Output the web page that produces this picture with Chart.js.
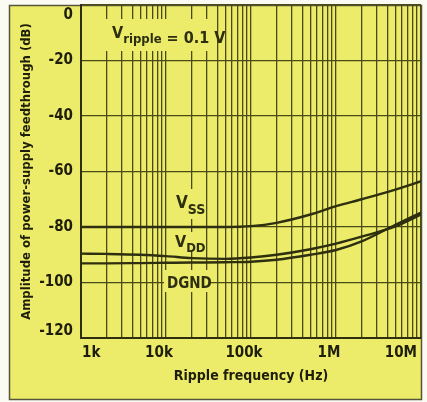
<!DOCTYPE html>
<html>
<head>
<meta charset="utf-8">
<script src="https://cdn.jsdelivr.net/npm/chart.js@4"></script>
<style>
html, body { margin:0; padding:0; background:#fff; }
#wrap { width:427px; height:402px; }
</style>
</head>
<body>
<div id="wrap"><canvas id="psrr" width="427" height="402"></canvas></div>
<script>

// values (dB vs ripple frequency)
const freqHz = [1e3, 2e3, 5e3, 1e4, 2e4, 5e4, 1e5, 2e5, 5e5, 1e6, 2e6, 5e6, 1e7];
const vssDb  = [-80, -80, -80, -80, -80, -80, -79.7, -78.5, -75.5, -72.5, -70, -66.5, -63.5];
const vddDb  = [-89.6, -89.7, -90, -90.5, -91.2, -91.5, -91, -90, -88, -86, -83.5, -79.8, -75.5];
const dgndDb = [-93.1, -93.1, -93, -92.9, -92.8, -92.7, -92.5, -91.8, -90, -88.3, -85.2, -79.2, -74.8];

const decadeTicks  = [1e3, 1e4, 1e5, 1e6, 1e7];
const decadeLabels = ['1k', '10k', '100k', '1M', '10M'];
const dbTicks = [0, -20, -40, -60, -80, -100, -120];

const INK = '#2e2e10';
const GRID = '#4a4a16';
const YELLOW = '#ecec6a';
const FONT = "'Liberation Sans Narrow', 'DejaVu Sans Condensed', sans-serif";

function pts(vals){
    return freqHz.map((f, i) => ({x: f, y: vals[i]}));
}

function lineSet(vals){
    return {
        data: pts(vals),
        borderColor: INK,
        borderWidth: 2.4,
        pointRadius: 0,
        tension: 0.4,
        cubicInterpolationMode: 'monotone',
        fill: false
    };
}

// yellow panel, frame, and nudging the end tick labels inside the plot
const framePlugin = {
    id: 'frame',
    beforeDraw(chart){
        const ctx = chart.ctx;
        const a = chart.chartArea;
        ctx.save();
        ctx.fillStyle = '#fbfbf4';
        ctx.fillRect(0, 0, chart.width, chart.height);
        ctx.fillStyle = YELLOW;
        ctx.fillRect(9, 5, 413, 395);
        ctx.strokeStyle = '#55553a';
        ctx.lineWidth = 1.5;
        ctx.strokeRect(9.5, 5.5, 412, 394);
        ctx.restore();

        const xs = chart.scales.x.getLabelItems();
        xs.forEach(it => {
            if (!it.label) return;
            ctx.font = it.font.string;
            const half = ctx.measureText(it.label).width / 2;
            const t = it.options.translation;
            if (t[0] - half < a.left + 1) t[0] = a.left + 1 + half;
            if (t[0] + half > a.right - 4) t[0] = a.right - 4 - half;
        });
        const ys = chart.scales.y.getLabelItems();
        ys.forEach(it => {
            const t = it.options.translation;
            const half = it.font.size * 0.38;
            if (t[1] - half < a.top + 4) t[1] = a.top + 4 + half;
            if (t[1] + half > a.bottom - 1) t[1] = a.bottom - 1 - half;
        });
    }
};

function subText(ctx, x, y, main, sub, rest, size, subSize, drop){
    ctx.font = 'bold ' + size + 'px ' + FONT;
    ctx.fillText(main, x, y);
    x += ctx.measureText(main).width;
    ctx.font = 'bold ' + subSize + 'px ' + FONT;
    ctx.fillText(sub, x, y + drop);
    x += ctx.measureText(sub).width;
    if (rest){
        ctx.font = 'bold ' + size + 'px ' + FONT;
        ctx.fillText(rest, x, y + drop);
    }
}

const labelPlugin = {
    id: 'curveLabels',
    afterDatasetsDraw(chart){
        const ctx = chart.ctx;
        ctx.save();
        ctx.fillStyle = YELLOW;
        ctx.fillRect(106, 19, 108, 32);
        ctx.fillRect(172, 189, 34, 30);
        ctx.fillRect(171, 232, 33, 19);
        ctx.fillRect(164, 270, 44, 22);
        ctx.fillStyle = INK;
        ctx.textBaseline = 'alphabetic';
        subText(ctx, 112, 38, 'V', 'ripple', ' = 0.1 V', 16, 13, 5);
        subText(ctx, 176, 208, 'V', 'SS', '', 17, 14, 6);
        subText(ctx, 175, 247, 'V', 'DD', '', 16, 13, 5);
        ctx.font = 'bold 15px ' + FONT;
        ctx.fillText('DGND', 167, 288);
        ctx.restore();
    }
};

new Chart(document.getElementById('psrr'), {
    type: 'line',
    data: {
        datasets: [lineSet(vssDb), lineSet(vddDb), lineSet(dgndDb)]
    },
    options: {
        responsive: false,
        animation: false,
        devicePixelRatio: 1,
        layout: { padding: { left: 0, top: 5, right: 6, bottom: 0 } },
        plugins: {
            legend: { display: false },
            tooltip: { enabled: false }
        },
        scales: {
            x: {
                type: 'logarithmic',
                min: 1e3,
                max: 1e7,
                afterBuildTicks(s){
                    const t = [];
                    for (let i = 0; i < decadeTicks.length - 1; i++){
                        for (let m = 1; m <= 9; m++) t.push({value: decadeTicks[i] * m});
                    }
                    t.push({value: decadeTicks[decadeTicks.length - 1]});
                    s.ticks = t;
                },
                afterFit(s){
                    s.height = 64;
                    s.paddingLeft = 0;
                    s.paddingRight = 0;
                },
                grid: {
                    color: GRID,
                    lineWidth: 1.3,
                    drawTicks: false
                },
                border: { color: INK, width: 2 },
                ticks: {
                    autoSkip: false,
                    maxRotation: 0,
                    minRotation: 0,
                    padding: 6,
                    labelOffset: -7,
                    color: '#1e1e0a',
                    font: { family: FONT, size: 15, weight: 'bold' },
                    callback(v){
                        const i = decadeTicks.indexOf(v);
                        return i < 0 ? '' : decadeLabels[i];
                    }
                },
                title: {
                    display: true,
                    text: 'Ripple frequency (Hz)',
                    color: '#1e1e0a',
                    font: { family: FONT, size: 14, weight: 'bold' },
                    padding: { top: 0, bottom: 17 }
                }
            },
            y: {
                min: -120,
                max: 0,
                afterBuildTicks(s){
                    s.ticks = dbTicks.map(v => ({value: v}));
                },
                afterFit(s){
                    s.width = 81;
                    s.paddingTop = 0;
                    s.paddingBottom = 0;
                },
                grid: {
                    color: GRID,
                    lineWidth: 1.3,
                    drawTicks: false
                },
                border: { color: INK, width: 2 },
                ticks: {
                    padding: 8,
                    color: '#1e1e0a',
                    font: { family: FONT, size: 15, weight: 'bold' }
                },
                title: {
                    display: true,
                    text: 'Amplitude of power-supply feedthrough (dB)',
                    color: '#1e1e0a',
                    font: { family: FONT, size: 13, weight: 'bold' },
                    padding: { top: 19, bottom: 0 }
                }
            }
        }
    },
    plugins: [framePlugin, labelPlugin]
});
</script>
</body>
</html>
